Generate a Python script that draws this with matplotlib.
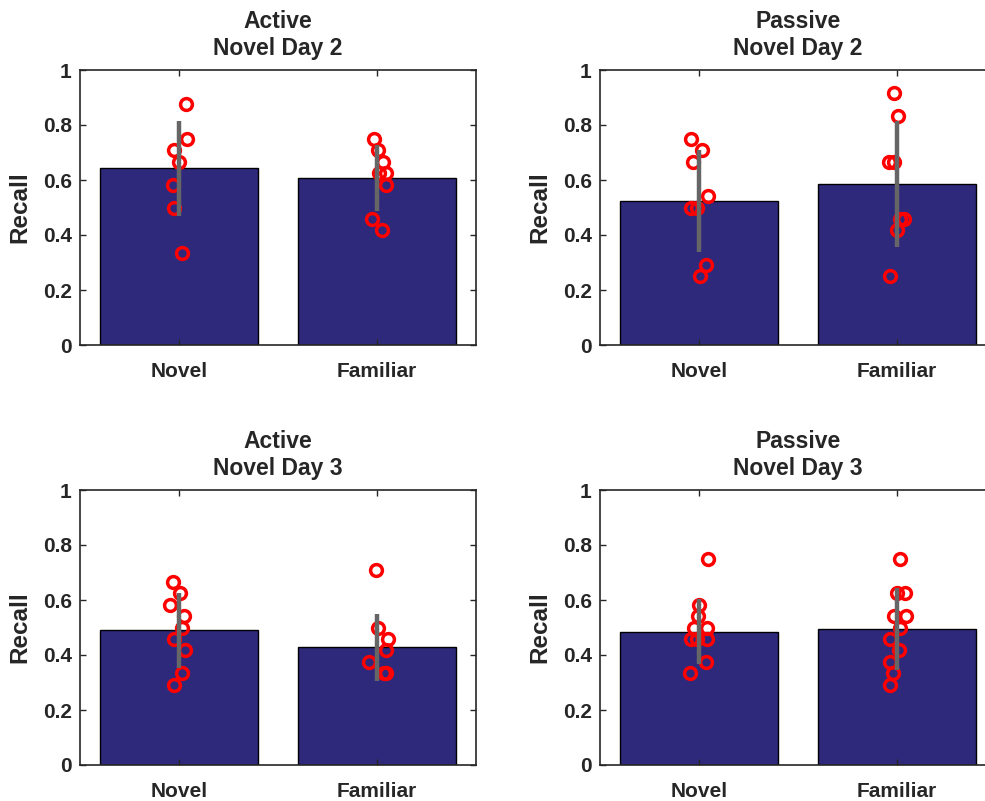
import matplotlib
matplotlib.use("Agg")
import matplotlib.pyplot as plt
import numpy as np

plt.rcParams['font.family'] = ['Liberation Sans', 'DejaVu Sans']
plt.rcParams['font.weight'] = 'bold'

categories = ["Novel", "Familiar"]
titles = ["Active\nNovel Day 2", "Passive\nNovel Day 2", "Active\nNovel Day 3", "Passive\nNovel Day 3"]
ytick_vals = [0, 0.2, 0.4, 0.6, 0.8, 1]
ytick_labels = ["0", "0.2", "0.4", "0.6", "0.8", "1"]

# bar means and error half-lengths per panel [Novel, Familiar]
means_active_d2 = [0.642, 0.608]
err_active_d2 = [0.174, 0.120]
means_passive_d2 = [0.524, 0.585]
err_passive_d2 = [0.186, 0.230]
means_active_d3 = [0.490, 0.428]
err_active_d3 = [0.136, 0.122]
means_passive_d3 = [0.484, 0.495]
err_passive_d3 = [0.118, 0.150]

# individual subject points
pts_active_d2_novel = [0.875, 0.750, 0.708, 0.667, 0.583, 0.500, 0.333]
jit_active_d2_novel = [0.033, 0.041, -0.023, 0.0, -0.031, -0.026, 0.013]
pts_active_d2_fam = [0.750, 0.708, 0.667, 0.625, 0.625, 0.583, 0.458, 0.417]
jit_active_d2_fam = [-0.016, 0.004, 0.031, 0.009, 0.043, 0.046, -0.024, 0.026]

pts_passive_d2_novel = [0.750, 0.708, 0.667, 0.542, 0.500, 0.500, 0.292, 0.250]
jit_passive_d2_novel = [-0.040, 0.013, -0.031, 0.046, -0.038, -0.009, 0.033, 0.004]
pts_passive_d2_fam = [0.917, 0.833, 0.667, 0.667, 0.458, 0.458, 0.417, 0.250]
jit_passive_d2_fam = [-0.013, 0.006, -0.041, -0.016, 0.014, 0.035, 0.001, -0.033]

pts_active_d3_novel = [0.667, 0.625, 0.583, 0.542, 0.500, 0.458, 0.417, 0.333, 0.292]
jit_active_d3_novel = [-0.031, 0.003, -0.043, 0.024, 0.013, -0.026, 0.028, 0.016, -0.026]
pts_active_d3_fam = [0.708, 0.500, 0.458, 0.417, 0.375, 0.333, 0.333]
jit_active_d3_fam = [-0.004, 0.004, 0.055, 0.043, -0.041, 0.043, 0.035]

pts_passive_d3_novel = [0.750, 0.583, 0.542, 0.500, 0.500, 0.458, 0.458, 0.458, 0.375, 0.333]
jit_passive_d3_novel = [0.046, -0.001, -0.006, -0.026, 0.041, -0.038, -0.009, 0.041, 0.036, -0.046]
pts_passive_d3_fam = [0.750, 0.625, 0.625, 0.542, 0.542, 0.500, 0.458, 0.417, 0.375, 0.333, 0.292]
jit_passive_d3_fam = [0.014, 0.001, 0.038, -0.016, 0.043, 0.014, -0.036, 0.009, -0.036, -0.021, -0.036]

panels = [
    (means_active_d2, err_active_d2, [(pts_active_d2_novel, jit_active_d2_novel), (pts_active_d2_fam, jit_active_d2_fam)]),
    (means_passive_d2, err_passive_d2, [(pts_passive_d2_novel, jit_passive_d2_novel), (pts_passive_d2_fam, jit_passive_d2_fam)]),
    (means_active_d3, err_active_d3, [(pts_active_d3_novel, jit_active_d3_novel), (pts_active_d3_fam, jit_active_d3_fam)]),
    (means_passive_d3, err_passive_d3, [(pts_passive_d3_novel, jit_passive_d3_novel), (pts_passive_d3_fam, jit_passive_d3_fam)]),
]

W, H = 985, 801
fig = plt.figure(figsize=(W / 100, H / 100), dpi=100)
boxes = [(80, 70), (600, 70), (80, 490), (600, 490)]
aw, ah = 396, 275

bar_color = '#2F297C'
txt = '#262626'
spine_c = '#262626'

for i, ((bx, by), title, (means, errs, groups)) in enumerate(zip(boxes, titles, panels)):
    ax = fig.add_axes([bx / W, (H - by - ah) / H, aw / W, ah / H])
    x = np.arange(1, len(categories) + 1)
    ax.bar(x, means, width=0.8, color=bar_color, edgecolor='black', linewidth=1.0, zorder=1)
    for xi, (pts, jit) in zip(x, groups):
        ax.plot(xi + np.array(jit), pts, 'o', ms=8.5, mfc='none', mec='red', mew=2.5, zorder=3, clip_on=False)
    ax.errorbar(x, means, yerr=errs, fmt='none', ecolor='#666666', elinewidth=3.2, capsize=0, zorder=4)
    ax.set_xlim(0.5, 2.5)
    ax.set_ylim(0, 1)
    ax.set_xticks(x)
    ax.set_xticklabels(categories, fontsize=15, fontweight='bold', color=txt)
    ax.set_yticks(ytick_vals)
    ax.set_yticklabels(ytick_labels, fontsize=15, fontweight='bold', color=txt)
    right_col = (i % 2 == 1)
    ax.tick_params(direction='in', length=4, width=1.0, colors=spine_c, top=True, right=not right_col)
    ax.tick_params(axis='x', pad=12, labelcolor=txt)
    ax.tick_params(axis='y', pad=6, labelcolor=txt)
    for s in ax.spines.values():
        s.set_linewidth(1.2)
        s.set_color(spine_c)
    if right_col:
        # right edge of these axes lies beyond the figure edge
        ax.spines['right'].set_visible(False)
    ax.set_ylabel("Recall", fontsize=17.5, fontweight='bold', color=txt, labelpad=8)
    ax.set_title(title, fontsize=16.5, fontweight='bold', color=txt, pad=11, linespacing=1.2)

fig.savefig("out.png", dpi=100, facecolor='white')
